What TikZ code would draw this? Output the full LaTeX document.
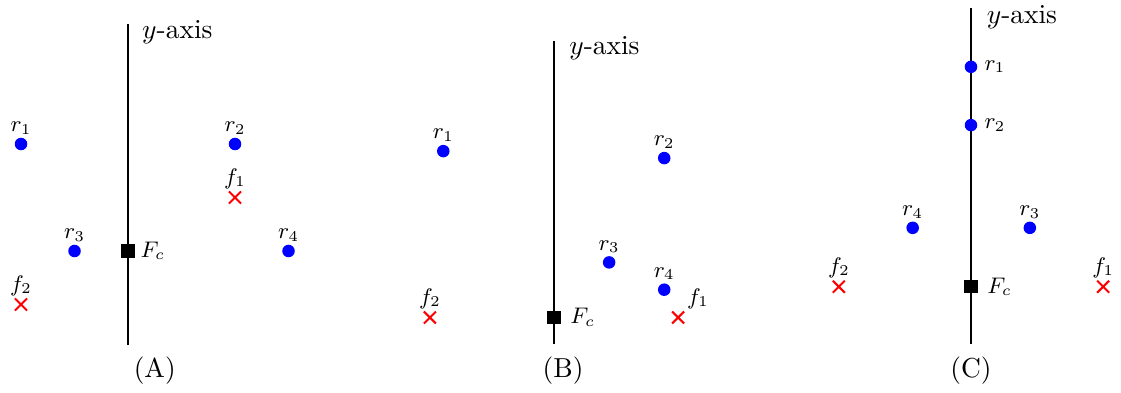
\documentclass[tikz,border=0pt]{standalone}
\usetikzlibrary{shapes.misc,positioning}
\begin{document}
\begin{tikzpicture}[x=0.75cm,y=0.75cm,font=\fontsize{10.95}{13.6}\selectfont,
	robot/.style={circle,fill=blue,inner sep=0pt,minimum size=5pt},
	fail/.style={cross out,draw=red,line width=0.8pt,inner sep=0pt,minimum size=4pt},
	fc/.style={rectangle,fill=black,inner sep=0pt,minimum size=5.3pt},
	lab/.style={inner sep=1pt,font=\fontsize{9}{11}\selectfont},
	axisline/.style={semithick}]
	\useasboundingbox (-2.393,-2.636) rectangle (18.561,4.692);
	% (A)
	\begin{scope}
		\coordinate (A-bot) at (0,-1.76);
		\coordinate (A-top) at (0,4.24);
		\draw[axisline] (A-bot) -- (A-top);
		\node[anchor=west] (A-ax) at (0.1,4.09) {$y$-axis};
		\node[robot,label={[lab]above:$r_1$}] (A-r1) at (-2,2) {};
		\node[robot,label={[lab]above:$r_2$}] (A-r2) at (2,2) {};
		\node[robot,label={[lab]above:$r_3$}] (A-r3) at (-1,0) {};
		\node[robot,label={[lab]above:$r_4$}] (A-r4) at (3,0) {};
		\node[fail,label={[lab]above:$f_1$}] (A-f1) at (2,1) {};
		\node[fail,label={[lab]above:$f_2$}] (A-f2) at (-2,-1) {};
		\node[fc,label={[lab,inner sep=2pt]right:$F_c$}] (A-fc) at (0,0) {};
	\end{scope}
	% (B)
	\begin{scope}[shift={(7.963,-1.243)}]
		\coordinate (B-bot) at (0,-0.5);
		\coordinate (B-top) at (0,5.16);
		\draw[axisline] (B-bot) -- (B-top);
		\node[anchor=west] (B-ax) at (0.12,5.04) {$y$-axis};
		\node[robot,label={[lab]above:$r_1$}] (B-r1) at (-2.07,3.11) {};
		\node[robot,label={[lab]above:$r_2$}] (B-r2) at (2.06,2.98) {};
		\node[robot,label={[lab]above:$r_3$}] (B-r3) at (1.03,1.03) {};
		\node[robot,label={[lab]above:$r_4$}] (B-r4) at (2.06,0.52) {};
		\node[fail,label={[lab]above right:$f_1$}] (B-f1) at (2.32,0) {};
		\node[fail,label={[lab]above:$f_2$}] (B-f2) at (-2.32,0) {};
		\node[fc,label={[lab,inner sep=3.5pt]right:$F_c$}] (B-fc) at (0,0) {};
	\end{scope}
	% (C)
	\begin{scope}[shift={(15.757,-0.667)}]
		\coordinate (C-bot) at (0,-1.07);
		\coordinate (C-top) at (0,5.2);
		\draw[axisline] (C-bot) -- (C-top);
		\node[anchor=west] (C-ax) at (0.13,5.04) {$y$-axis};
		\node[robot,label={[lab,inner sep=2.5pt]right:$r_1$}] (C-r1) at (0,4.11) {};
		\node[robot,label={[lab,inner sep=2.5pt]right:$r_2$}] (C-r2) at (0,3.02) {};
		\node[robot,label={[lab]above:$r_3$}] (C-r3) at (1.10,1.10) {};
		\node[robot,label={[lab]above:$r_4$}] (C-r4) at (-1.09,1.10) {};
		\node[fail,label={[lab]above:$f_1$}] (C-f1) at (2.47,0) {};
		\node[fail,label={[lab]above:$f_2$}] (C-f2) at (-2.47,0) {};
		\node[fc,label={[lab,inner sep=3.5pt]right:$F_c$}] (C-fc) at (0,0) {};
	\end{scope}
	% captions
	\node (capA) at (0.5,-2.24) {(A)};
	\node (capB) at (8.133,-2.24) {(B)};
	\node (capC) at (15.757,-2.24) {(C)};
\end{tikzpicture}
\end{document}
